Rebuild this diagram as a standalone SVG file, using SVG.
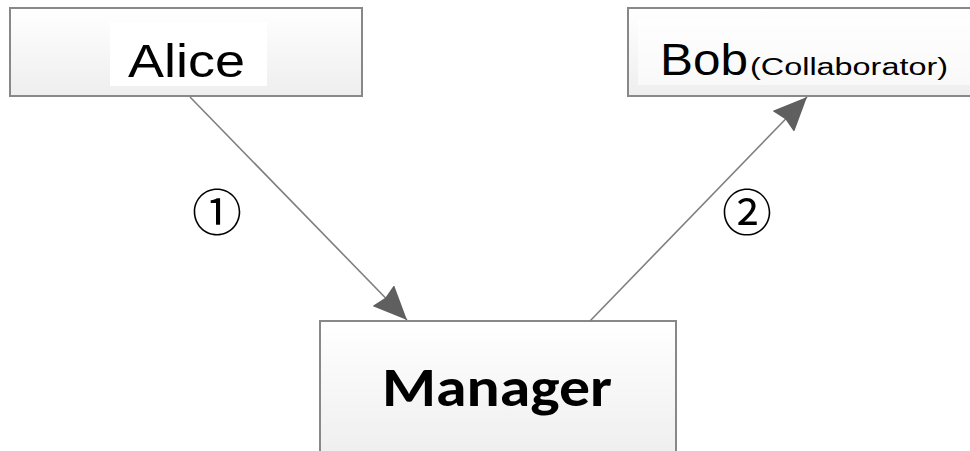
<svg xmlns="http://www.w3.org/2000/svg" width="970" height="451" viewBox="0 0 970 451">
<defs>
<linearGradient id="g" x1="0" y1="0" x2="0" y2="1">
<stop offset="0" stop-color="#ffffff"/>
<stop offset="1" stop-color="#eeeeee"/>
</linearGradient>
<marker id="ah" markerWidth="34" markerHeight="30" viewBox="0 0 34 30" refX="34" refY="15" orient="auto" markerUnits="userSpaceOnUse">
<path d="M0,0 L34,15 L0,30 L3,15 Z" fill="#5f5f5f"/>
</marker>
<style>
.box{fill:url(#g);stroke:#888888;stroke-width:2}
.lbl{font-family:"Century Gothic","Liberation Sans",sans-serif;fill:#000}
.num{font-family:"Noto Sans CJK SC",sans-serif;font-size:50px;fill:#000}
.edge{stroke:#7f7f7f;stroke-width:1.6;fill:none}
</style>
</defs>
<rect width="970" height="451" fill="#ffffff"/>
<g id="alice">
<rect class="box" x="10" y="8" width="352" height="88"/>
<rect x="110" y="22" width="157" height="64" fill="#ffffff"/>
<text class="lbl" x="128" y="77" font-size="47" textLength="117" lengthAdjust="spacingAndGlyphs">Alice</text>
</g>
<g id="bob">
<rect class="box" x="628" y="8" width="346" height="88"/>
<rect x="638" y="20" width="332" height="65" fill="#ffffff" opacity="0.6"/>
<text class="lbl" x="660" y="75" font-size="44" textLength="88" lengthAdjust="spacingAndGlyphs">Bob</text>
<text class="lbl" x="750" y="75" font-size="23" textLength="198" lengthAdjust="spacingAndGlyphs">(Collaborator)</text>
</g>
<g id="manager">
<rect class="box" x="320" y="321" width="356" height="140"/>
<text x="497" y="406" font-family="Carlito,'Liberation Sans',sans-serif" font-weight="bold" font-size="54" text-anchor="middle" textLength="230" lengthAdjust="spacingAndGlyphs">Manager</text>
</g>
<g id="connectors">
<line class="edge" x1="190" y1="97" x2="407" y2="320" marker-end="url(#ah)"/>
<line class="edge" x1="590" y1="321" x2="807" y2="97" marker-end="url(#ah)"/>
<text class="num" x="217" y="231" text-anchor="middle">①</text>
<text class="num" x="747" y="231" text-anchor="middle">②</text>
</g>
</svg>
